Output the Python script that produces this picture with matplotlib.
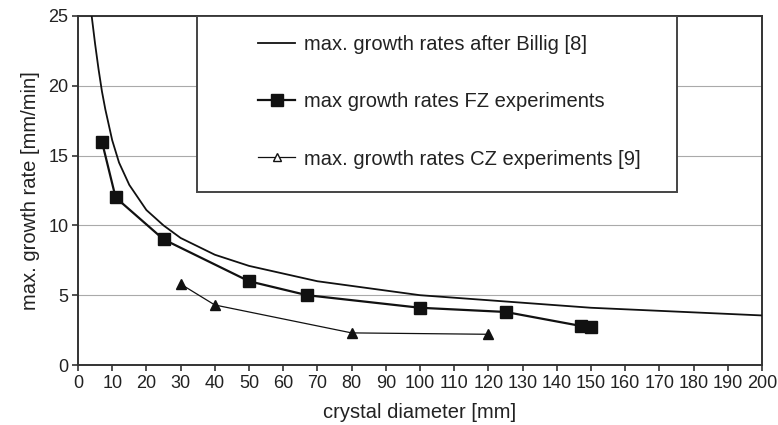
import matplotlib
matplotlib.use("Agg")
import matplotlib.pyplot as plt
from matplotlib.lines import Line2D
from matplotlib.patches import Rectangle

plt.rcParams['font.family'] = ['Liberation Sans', 'DejaVu Sans']

# Billig curve
billig_d = [4, 5, 6, 7, 8, 10, 12, 15, 20, 25, 30, 40, 50, 70, 100, 150, 200]
billig_v = [25.0, 23.0, 21.2, 19.6, 18.3, 16.1, 14.5, 12.9, 11.1, 10.0, 9.1, 7.9, 7.1, 6.0, 5.0, 4.1, 3.55]

# FZ experiments
fz_d = [7, 11, 25, 50, 67, 100, 125, 147, 150]
fz_v = [16, 12, 9, 6, 5, 4.1, 3.8, 2.8, 2.7]

# CZ experiments
cz_d = [30, 40, 80, 120]
cz_v = [5.8, 4.3, 2.3, 2.2]

xticks = list(range(0, 201, 10))
yticks = [0, 5, 10, 15, 20, 25]

labels = ["max. growth rates after Billig [8]",
          "max growth rates FZ experiments",
          "max. growth rates CZ experiments [9]"]

fig = plt.figure(figsize=(7.78, 4.25), dpi=100)
ax = fig.add_axes([78/778, 1-365/425, (762-78)/778, (365-16)/425])

txt = '#222222'
ax.plot(billig_d, billig_v, color='#111111', lw=1.3, zorder=3)
ax.plot(fz_d, fz_v, color='#111111', lw=1.6, marker='s', ms=8.5, mfc='#111111', mec='#111111', zorder=4)
ax.plot(cz_d, cz_v, color='#111111', lw=0.9, marker='^', ms=6.5, mfc='#111111', mec='#111111', zorder=4)

ax.set_xlim(0, 200)
ax.set_ylim(0, 25)
ax.set_xticks(xticks)
ax.set_yticks(yticks)
ax.yaxis.grid(True, color='#aaaaaa', lw=0.8)
ax.set_axisbelow(True)
for s in ax.spines.values():
    s.set_color('#333333')
    s.set_linewidth(1.4)
ax.tick_params(axis='both', direction='out', length=4, width=1.2, color='#333333',
               labelsize=13, labelcolor=txt, pad=3)
ax.set_xlabel("crystal diameter [mm]", fontsize=14.5, color=txt, labelpad=8)
ax.set_ylabel("max. growth rate [mm/min]", fontsize=14.5, color=txt, labelpad=6)

# legend frame
rect = Rectangle(((197-78)/684, (365-192)/349), (677-197)/684, 1-(365-192)/349,
                 transform=ax.transAxes, facecolor='white', edgecolor='#444444',
                 lw=1.4, zorder=5)
ax.add_patch(rect)

handles = [Line2D([], [], color='#111111', lw=1.3),
           Line2D([], [], color='#111111', lw=1.6, marker='s', ms=8.5, mfc='#111111'),
           Line2D([], [], color='#111111', lw=0.9, marker='^', ms=6, mfc='white')]
leg = ax.legend(handles, labels, loc='upper left',
                bbox_to_anchor=((258-78)/684, (365-35)/349),
                borderaxespad=0, borderpad=0, frameon=False, fontsize=14.5,
                labelspacing=1.9, handlelength=1.85, handletextpad=0.45, labelcolor=txt)
leg.set_zorder(6)

fig.savefig("out.png", dpi=100)
